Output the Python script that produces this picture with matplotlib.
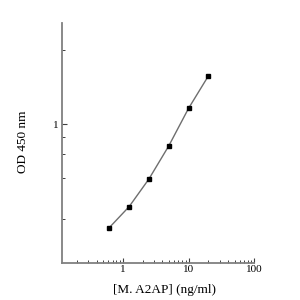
import numpy as np
import matplotlib
matplotlib.use('Agg')
import matplotlib.pyplot as plt
from matplotlib.ticker import FixedLocator, NullFormatter

# standard curve
conc = [0.625, 1.25, 2.5, 5, 10, 20]
od = [0.173, 0.247, 0.395, 0.692, 1.31, 2.27]

xticks = [1, 10, 100]
xlabels = ['1', '10', '100']
yticks = [1]
ylabels = ['1']
yminor = [0.2, 0.4, 0.6, 0.8, 3.55]

plt.rcParams['font.family'] = ['Liberation Serif', 'DejaVu Serif']

fig = plt.figure(figsize=(3, 3), dpi=100)
ax = fig.add_axes([0.2057, 0.1243, 0.642, 0.8])

ax.plot(conc, od, '-', color='#6e6e6e', lw=1.0)
ax.plot(conc, od, 's', color='black', ms=3.2)

ax.set_xscale('log')
ax.set_yscale('log')
ax.set_xlim(0.118, 100)
ax.set_ylim(0.0953, 5.61)

ax.xaxis.set_major_locator(FixedLocator(xticks))
ax.set_xticklabels(xlabels)
ax.set_yticks(yticks)
ax.set_yticklabels(ylabels)
ax.yaxis.set_minor_locator(FixedLocator(yminor))
ax.yaxis.set_minor_formatter(NullFormatter())
ax.xaxis.set_minor_formatter(NullFormatter())

for s in ['top', 'right']:
    ax.spines[s].set_visible(False)
for s in ['left', 'bottom']:
    ax.spines[s].set_color('#808080')
    ax.spines[s].set_linewidth(1.3)

ax.tick_params(which='both', direction='in', color='#404040', labelsize=8, pad=2)
ax.tick_params(which='major', length=3.5, width=0.8)
ax.tick_params(which='minor', length=2.5, width=0.7)

ax.set_xlabel('[M. A2AP] (ng/ml)', fontsize=9.5)
ax.set_ylabel('OD 450 nm', fontsize=9.5)
ax.xaxis.set_label_coords(0.535, -0.09)
ax.yaxis.set_label_coords(-0.172, 0.503)

fig.savefig('out.png', dpi=100)
